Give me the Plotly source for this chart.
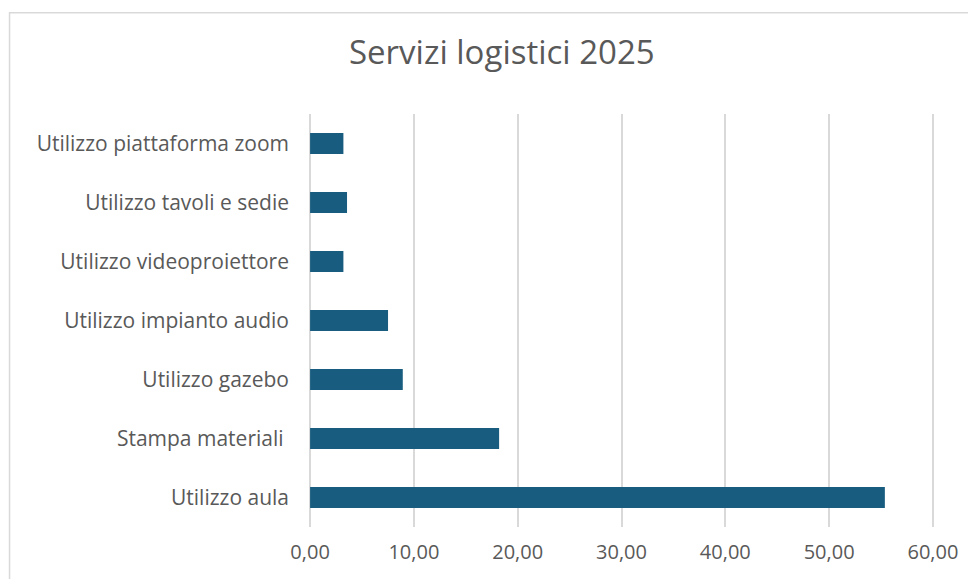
import plotly.graph_objects as go

# dati
servizi = [
    "Utilizzo aula",
    "Stampa materiali ",
    "Utilizzo gazebo",
    "Utilizzo impianto audio",
    "Utilizzo videoproiettore",
    "Utilizzo tavoli e sedie",
    "Utilizzo piattaforma zoom",
]
valori = [55.37, 18.21, 8.93, 7.51, 3.21, 3.56, 3.21]
x_ticks = [0, 10, 20, 30, 40, 50, 60]

bar_color = "#185D7F"
grid_color = "#D9D9D9"
text_color = "#595959"
font_family = "Open Sans"

fig = go.Figure()
fig.add_trace(
    go.Bar(
        x=valori,
        y=servizi,
        orientation="h",
        width=0.36,
        marker=dict(color=bar_color, line=dict(width=0)),
        hovertemplate="%{y}: %{x:.2f}<extra></extra>",
    )
)

# bordo del riquadro del grafico
fig.add_shape(
    type="rect",
    xref="paper", yref="paper",
    x0=-0.476, x1=1.15, y0=-0.2, y1=1.245,
    line=dict(color=grid_color, width=1.5),
    fillcolor="rgba(0,0,0,0)",
    layer="below",
)

fig.update_layout(
    width=976,
    height=579,
    # range un po' piu' largo per non perdere le griglie agli estremi
    margin=dict(l=300, r=49, t=106, b=60, autoexpand=False),
    paper_bgcolor="white",
    plot_bgcolor="white",
    separators=",.",
    showlegend=False,
    font=dict(family=font_family, color=text_color, size=21),
    title=dict(
        text="Servizi logistici 2025",
        x=0.506,
        xanchor="center",
        y=0.924,
        yanchor="middle",
        font=dict(size=33, color=text_color, family=font_family),
    ),
    xaxis=dict(
        range=[-0.2, 60.2],
        tickvals=x_ticks,
        tickformat=".2f",
        showgrid=True,
        gridcolor=grid_color,
        gridwidth=1.5,
        zeroline=True,
        zerolinecolor=grid_color,
        zerolinewidth=1.5,
        showline=False,
        ticks="",
        automargin=False,
        ticklabelstandoff=11,
        tickfont=dict(size=20, color=text_color),
    ),
    yaxis=dict(
        categoryorder="array",
        categoryarray=servizi,
        showgrid=False,
        zeroline=False,
        showline=False,
        ticks="",
        automargin=False,
        ticklabelstandoff=18,
        tickfont=dict(size=21, color=text_color),
    ),
)

fig.write_html("out.html")
